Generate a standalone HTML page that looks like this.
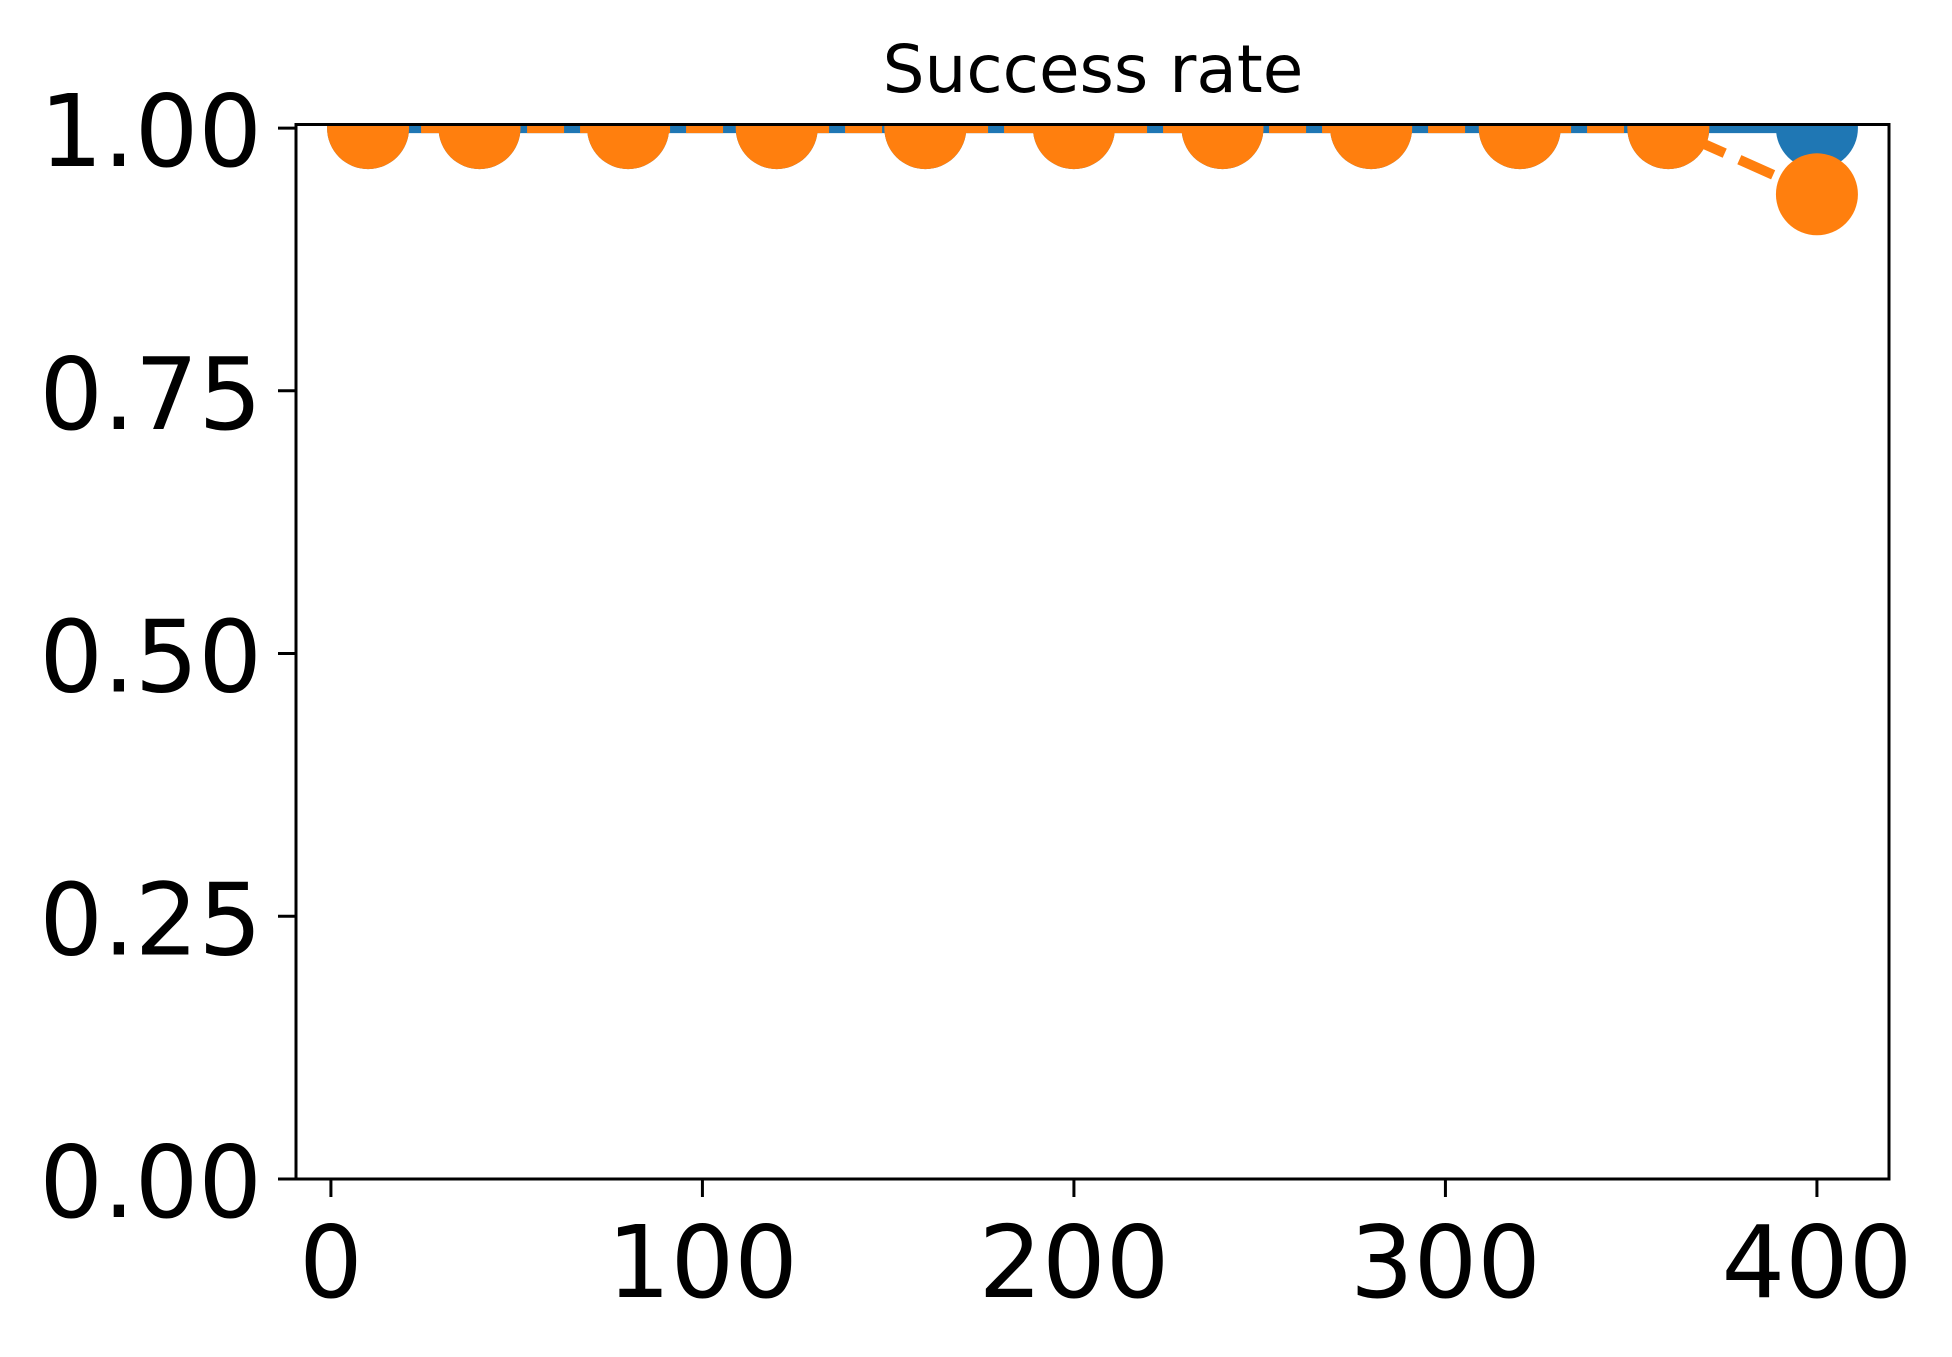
<!DOCTYPE html>
<html><head><meta charset="utf-8"><style>
html,body{margin:0;padding:0;background:#fff;}
svg{display:block;font-family:"DejaVu Sans","Liberation Sans",sans-serif;}
</style></head><body>
<svg id="chart" width="1952" height="1357" viewBox="0 0 1952 1357" xmlns="http://www.w3.org/2000/svg">
<text x="1093" y="92" font-size="66" text-anchor="middle">Success rate</text>
<g id="plot"></g>
</svg>
<script>
const xValues = [10, 40, 80, 120, 160, 200, 240, 280, 320, 360, 400];
const blueValues = [1, 1, 1, 1, 1, 1, 1, 1, 1, 1, 1];
const orangeValues = [1, 1, 1, 1, 1, 1, 1, 1, 1, 1, 0.937];
const xTicks = [0, 100, 200, 300, 400];
const yTicks = [0, 0.25, 0.5, 0.75, 1.0];
const yTickLabels = ["0.00", "0.25", "0.50", "0.75", "1.00"];

const L = 296, R = 1889, T = 124.5, B = 1179;
const xMin = -9.4, xMax = 419.4, yMin = 0, yMax = 1.0034;
function sx(v){ return L + (v - xMin) / (xMax - xMin) * (R - L); }
function sy(v){ return B - (v - yMin) / (yMax - yMin) * (B - T); }
const NS = "http://www.w3.org/2000/svg";
const g = document.getElementById('plot');
function mk(tag, attrs, parent){
  const e = document.createElementNS(NS, tag);
  for (const k in attrs) e.setAttribute(k, attrs[k]);
  (parent || g).appendChild(e);
  return e;
}
const clip = mk('clipPath', {id: 'clipax'});
mk('rect', {x: L, y: T, width: R - L, height: B - T}, clip);
const data = mk('g', {'clip-path': 'url(#clipax)'});



function series(vals, color, dash, name){
  const pts = xValues.map((x, i) => sx(x) + ',' + sy(vals[i])).join(' ');
  const line = mk('polyline', {points: pts, fill: 'none', stroke: color, 'stroke-width': 10}, data);
  if (dash) line.setAttribute('stroke-dasharray', dash);
  
  
  xValues.forEach((x, i) => {
    const c = mk('circle', {cx: sx(x), cy: sy(vals[i]), r: 41, fill: color}, data);
    
    
  });
}
series(blueValues, '#1f77b4', null, 'blue-series');
series(orangeValues, '#ff7f0e', '37,16', 'orange-series');

const frame = mk('rect', {x: L, y: T, width: R - L, height: B - T, fill: 'none', stroke: '#000', 'stroke-width': 3});



xTicks.forEach(v => {
  const t = mk('line', {x1: sx(v), x2: sx(v), y1: B, y2: B + 18, stroke: '#000', 'stroke-width': 3});
  
  
  const lb = mk('text', {x: sx(v), y: B + 118, 'font-size': 100, 'text-anchor': 'middle'});
  lb.textContent = String(v);
  
  
});
yTicks.forEach((v, i) => {
  const t = mk('line', {x1: L - 18, x2: L, y1: sy(v), y2: sy(v), stroke: '#000', 'stroke-width': 3});
  
  
  const lb = mk('text', {x: L - 34, y: sy(v) + 38, 'font-size': 100, 'text-anchor': 'end'});
  lb.textContent = yTickLabels[i];
  
  
});
</script>
</body></html>
